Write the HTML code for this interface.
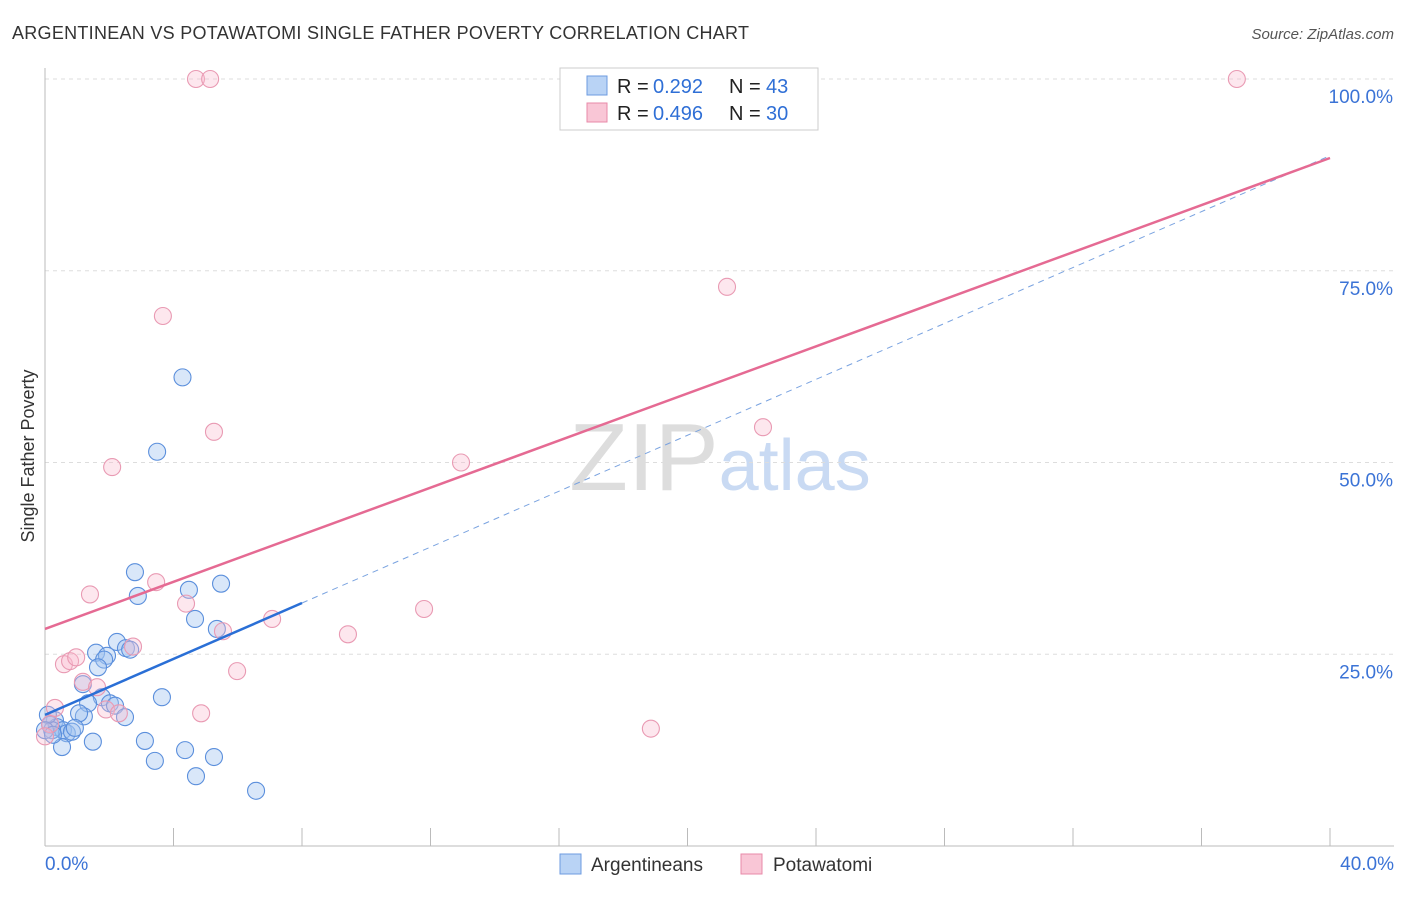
<!DOCTYPE html>
<html><head><meta charset="utf-8"><style>
body{margin:0;background:#fff;font-family:"Liberation Sans",sans-serif}
svg text{font-family:"Liberation Sans",sans-serif}
</style></head><body>
<svg id="chart" width="1406" height="892" xmlns="http://www.w3.org/2000/svg">
<text x="12" y="39" font-size="18" fill="#333" textLength="737">ARGENTINEAN VS POTAWATOMI SINGLE FATHER POVERTY CORRELATION CHART</text>
<text x="1394" y="39" font-size="15" fill="#555" text-anchor="end" font-style="italic">Source: ZipAtlas.com</text>
<text x="720" y="490" font-size="96" fill="#ddd" text-anchor="middle" font-family="Liberation Serif">ZIP<tspan fill="#c9daf3" font-family="Liberation Sans" font-size="72">atlas</tspan></text>
<g id="grid"></g>
<g id="axes"></g>
<g id="marks"></g>
<text transform="translate(34,456) rotate(-90)" font-size="18" fill="#333" text-anchor="middle">Single Father Poverty</text>
<g>
<rect x="560" y="68" width="258" height="62" fill="#fff" stroke="#ccc"/>
<rect x="587" y="76" width="20" height="19" fill="#b9d3f5" stroke="#6d9be0"/>
<text x="617" y="93" font-size="20" fill="#222">R =</text>
<text x="653" y="93" font-size="20" fill="#2f6fd6">0.292</text>
<text x="729" y="93" font-size="20" fill="#222">N =</text>
<text x="766" y="93" font-size="20" fill="#2f6fd6">43</text>
<rect x="587" y="103" width="20" height="19" fill="#f9c6d6" stroke="#e88aa8"/>
<text x="617" y="120" font-size="20" fill="#222">R =</text>
<text x="653" y="120" font-size="20" fill="#2f6fd6">0.496</text>
<text x="729" y="120" font-size="20" fill="#222">N =</text>
<text x="766" y="120" font-size="20" fill="#2f6fd6">30</text>
</g>
<g>
<rect x="560" y="854" width="21" height="20" fill="#b9d3f5" stroke="#6d9be0"/>
<text x="591" y="871" font-size="19" fill="#333">Argentineans</text>
<rect x="741" y="854" width="21" height="20" fill="#f9c6d6" stroke="#e88aa8"/>
<text x="773" y="871" font-size="19" fill="#333">Potawatomi</text>
</g>
</svg>
<script>
const blueX=[4.28,3.49,2.80,5.48,4.48,2.89,4.67,5.35,2.24,1.59,1.93,1.84,1.65,2.52,2.65,1.18,3.64,1.77,1.34,2.02,2.18,2.49,1.21,1.06,0.31,0.16,0.37,0.56,0.68,0.84,0.93,0.22,0.53,1.49,3.11,4.36,3.42,5.26,4.70,6.57,0.09,0.0,0.25];
const blueY=[61.1,51.4,35.7,34.2,33.4,32.6,29.6,28.3,26.6,25.2,24.8,24.3,23.3,25.8,25.6,21.1,19.4,19.4,18.6,18.6,18.3,16.8,16.9,17.3,16.4,15.8,15.5,15.1,14.7,14.9,15.4,15.1,12.9,13.6,13.7,12.5,11.1,11.6,9.1,7.2,17.1,15.1,14.5];
const pinkX=[4.70,5.14,37.10,3.67,21.23,5.26,2.09,12.95,22.35,3.46,1.40,4.39,11.80,7.07,5.54,9.43,2.74,0.59,0.78,0.97,5.98,1.18,1.62,1.90,2.30,4.86,18.86,0.31,0.16,0.0];
const pinkY=[100,100,100,69.1,72.9,54.0,49.4,50.0,54.6,34.4,32.8,31.6,30.9,29.6,28.0,27.6,26.0,23.7,24.1,24.6,22.8,21.4,20.7,17.8,17.3,17.3,15.3,18.0,15.9,14.3];
const trendX=[0,40];
const pinkTrend=[28.3,89.7];
const blueTrend=[17.1,90.0];
const blueSolidEnd=8;
const yTicks=[25,50,75,100];
const xTickCount=[0,4,8,12,16,20,24,28,32,36,40];
const X=v=>45+v*32.125, Y=v=>846-v*7.67;
const NS="http://www.w3.org/2000/svg";
function mk(parent,tag,attrs){const e=document.createElementNS(NS,tag);for(const k in attrs)e.setAttribute(k,attrs[k]);document.getElementById(parent).appendChild(e);return e;}
yTicks.forEach(t=>{
 const l=mk('grid','line',{x1:45,x2:1394,y1:Y(t),y2:Y(t),stroke:'#ddd','stroke-dasharray':'4,4'});
 
 
 const tx=mk('grid','text',{x:1393,y:Y(t)+24,'font-size':19,fill:'#3b73d6','text-anchor':'end'});
 tx.textContent=t.toFixed(1)+'%';
 
 
});
const ax=mk('axes','line',{x1:45,x2:1394,y1:846,y2:846,stroke:'#bbb'});


const ay=mk('axes','line',{x1:45,x2:45,y1:68,y2:846,stroke:'#bbb'});


xTickCount.forEach(t=>{
 const l=mk('axes','line',{x1:X(t),x2:X(t),y1:828,y2:846,stroke:'#bbb'});
 
 
});
[[0,'0.0%','start',45],[40,'40.0%','end',1394]].forEach(a=>{
 const tx=mk('axes','text',{x:a[3],y:870,'font-size':19,fill:'#3b73d6','text-anchor':a[2]});
 tx.textContent=a[1];
 
 
});
blueX.forEach((x,i)=>{
 const c=mk('marks','circle',{cx:X(x),cy:Y(blueY[i]),r:8.5,fill:'rgba(160,195,240,0.4)',stroke:'#5b8fdc','stroke-width':1.1});
 
 
});
pinkX.forEach((x,i)=>{
 const c=mk('marks','circle',{cx:X(x),cy:Y(pinkY[i]),r:8.5,fill:'rgba(248,185,205,0.35)',stroke:'#e99ab3','stroke-width':1.1});
 
 
});
const by=x=>blueTrend[0]+(blueTrend[1]-blueTrend[0])*(x-trendX[0])/(trendX[1]-trendX[0]);
const bd=mk('marks','line',{x1:X(blueSolidEnd),y1:Y(by(blueSolidEnd)),x2:X(trendX[1]),y2:Y(blueTrend[1]),stroke:'#7aa3e0','stroke-width':1,'stroke-dasharray':'6,5'});


const bs=mk('marks','line',{x1:X(trendX[0]),y1:Y(blueTrend[0]),x2:X(blueSolidEnd),y2:Y(by(blueSolidEnd)),stroke:'#2a6fd6','stroke-width':2.5});


const pl=mk('marks','line',{x1:X(trendX[0]),y1:Y(pinkTrend[0]),x2:X(trendX[1]),y2:Y(pinkTrend[1]),stroke:'#e56a93','stroke-width':2.5});


</script>
</body></html>
